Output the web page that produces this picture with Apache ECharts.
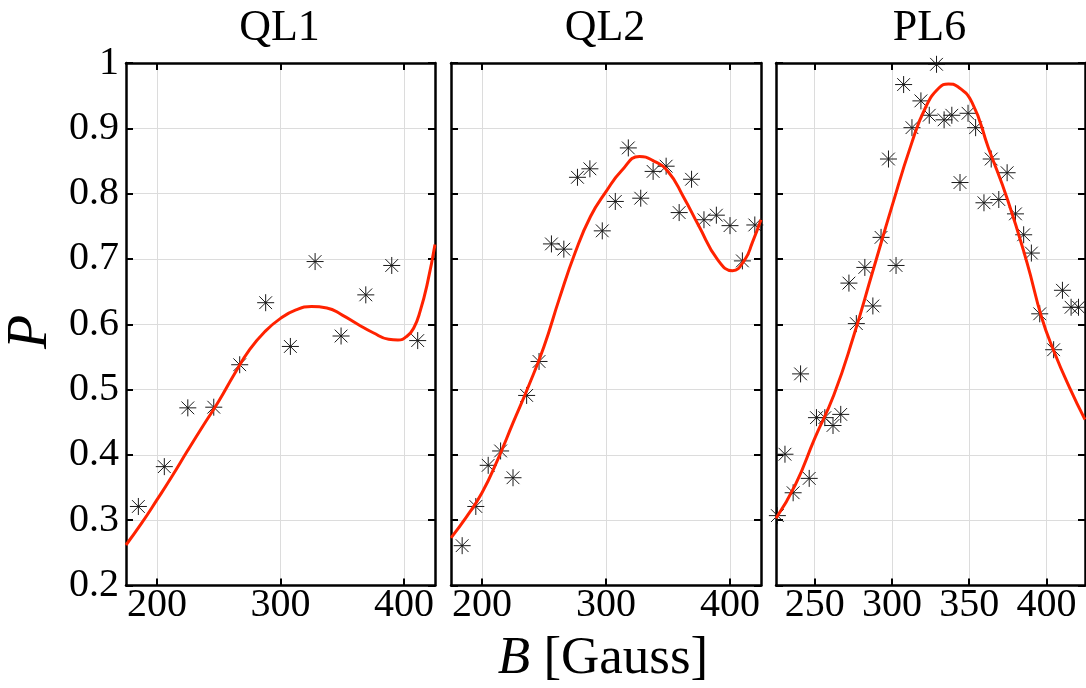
<!DOCTYPE html>
<html>
<head>
<meta charset="utf-8">
<script src="https://cdn.jsdelivr.net/npm/echarts@6/dist/echarts.min.js"></script>
<style>
html,body{margin:0;padding:0;background:#fff;}
#chart{width:1086px;height:688px;}
</style>
</head>
<body>
<div id="chart"></div>
<script>
// ---------- data ----------
const panelTitles = ['QL1', 'QL2', 'PL6'];

const ql1B = [185, 206, 225, 246, 267, 288, 308, 328, 349, 369, 390, 411];
const ql1P = [0.321, 0.382, 0.472, 0.473, 0.538, 0.633, 0.566, 0.696, 0.582, 0.645, 0.690, 0.575];
const ql1FitB = [175, 187.5, 200, 212.5, 225, 237.5, 250, 262.5, 275, 287.5, 300, 312.5, 325, 337.5, 350, 362.5, 375, 387.5, 395, 402.5, 408, 413, 419, 425];
const ql1FitP = [0.262, 0.295, 0.331, 0.368, 0.407, 0.445, 0.482, 0.523, 0.561, 0.589, 0.609, 0.622, 0.627, 0.625, 0.614, 0.600, 0.587, 0.577, 0.576, 0.582, 0.595, 0.620, 0.664, 0.722];

const ql2B = [184, 195, 205, 215, 225, 236, 246, 256, 266, 277, 287, 297, 307.5, 318, 328, 338, 348.5, 359, 369, 379, 389, 400, 410, 420];
const ql2P = [0.261, 0.321, 0.384, 0.406, 0.365, 0.491, 0.543, 0.723, 0.715, 0.825, 0.838, 0.743, 0.788, 0.870, 0.793, 0.834, 0.842, 0.771, 0.822, 0.760, 0.767, 0.751, 0.697, 0.752];
const ql2FitB = [175, 187.5, 200, 212.5, 225, 237.5, 250, 262.5, 275, 287.5, 300, 312.5, 327, 337.5, 350, 362.5, 375, 390, 402, 412, 418, 425];
const ql2FitP = [0.273, 0.305, 0.342, 0.392, 0.449, 0.505, 0.566, 0.640, 0.709, 0.765, 0.803, 0.835, 0.857, 0.851, 0.834, 0.795, 0.750, 0.699, 0.682, 0.699, 0.725, 0.760];

const pl6B = [225.9, 230.8, 236.1, 240.9, 246.5, 251.2, 256.6, 261.9, 266.9, 272.2, 277, 282.5, 287.7, 293, 297.8, 302.7, 307.6, 313, 318.8, 324.2, 328.9, 333.8, 338.8, 344.1, 349.3, 354.2, 359.6, 364.3, 369.2, 374.6, 380, 385.3, 390.3, 395.7, 404.7, 410.4, 416, 420.8];
const pl6P = [0.307, 0.401, 0.342, 0.524, 0.364, 0.457, 0.457, 0.445, 0.462, 0.663, 0.601, 0.687, 0.628, 0.733, 0.853, 0.690, 0.967, 0.901, 0.942, 0.920, 0.998, 0.913, 0.920, 0.817, 0.923, 0.901, 0.786, 0.853, 0.791, 0.832, 0.769, 0.737, 0.709, 0.616, 0.561, 0.652, 0.626, 0.626];
const pl6FitB = [225, 237.5, 250, 262.5, 275, 287.5, 300, 312.5, 322, 330.6, 336.6, 342.5, 352, 362.5, 375, 387.5, 397, 405, 415, 425];
const pl6FitP = [0.303, 0.354, 0.425, 0.492, 0.580, 0.680, 0.780, 0.875, 0.933, 0.962, 0.968, 0.964, 0.939, 0.870, 0.790, 0.694, 0.610, 0.558, 0.503, 0.454];

const xRanges = [[175, 425], [175, 425], [225, 425]];
const xTickLabels = [[200, 300, 400], [200, 300, 400], [250, 300, 350, 400]];
const yMin = 0.2, yMax = 1, yStep = 0.1;

// ---------- layout ----------
const FONT = '"Liberation Serif", "Times New Roman", serif';
const grids = [
  {left: 126, top: 63, width: 309, height: 522.5},
  {left: 451, top: 63, width: 310, height: 522.5},
  {left: 776, top: 63, width: 309, height: 522.5}
];
const scat = [[ql1B, ql1P], [ql2B, ql2P], [pl6B, pl6P]];
const fits = [[ql1FitB, ql1FitP], [ql2FitB, ql2FitP], [pl6FitB, pl6FitP]];
const zip = (a, b) => a.map((v, i) => [v, b[i]]);

const lineStyle = {color: '#000', width: 2.5};
const tickStyle = {color: '#000', width: 2};
const xAxis = [], yAxis = [], series = [];
const asterisk = 'path://M0 -10 L0 10 M-10 0 L10 0 M-7.5 -7.5 L7.5 7.5 M-7.5 7.5 L7.5 -7.5';

grids.forEach((g, i) => {
  xAxis.push({
    type: 'value', gridIndex: i, position: 'bottom', min: xRanges[i][0], max: xRanges[i][1],
    axisLine: {show: true, onZero: false, lineStyle},
    axisTick: {show: true, inside: true, length: 7, lineStyle: tickStyle, customValues: xTickLabels[i]},
    axisLabel: {show: true, customValues: xTickLabels[i], fontFamily: FONT, fontSize: 40, color: '#000', margin: 0},
    splitLine: {show: true, lineStyle: {color: '#dcdcdc', width: 1}}
  });
  xAxis.push({
    type: 'value', gridIndex: i, position: 'top', min: xRanges[i][0], max: xRanges[i][1],
    axisLine: {show: true, onZero: false, lineStyle},
    axisTick: {show: true, inside: true, length: 7, lineStyle: tickStyle, customValues: xTickLabels[i]},
    axisLabel: {show: false},
    splitLine: {show: false}
  });
  yAxis.push({
    type: 'value', gridIndex: i, position: 'left', min: yMin, max: yMax, interval: yStep,
    axisLine: {show: true, onZero: false, lineStyle},
    axisTick: {show: true, inside: true, length: 7, lineStyle: tickStyle},
    axisLabel: {show: i === 0, fontFamily: FONT, fontSize: 40, color: '#000', margin: 7,
      padding: [0, 0, 7, 0],
      formatter: v => String(Math.round(v * 10) / 10)},
    splitLine: {show: true, lineStyle: {color: '#dcdcdc', width: 1}}
  });
  yAxis.push({
    type: 'value', gridIndex: i, position: 'right', min: yMin, max: yMax, interval: yStep,
    axisLine: {show: true, onZero: false, lineStyle},
    axisTick: {show: true, inside: true, length: 7, lineStyle: tickStyle},
    axisLabel: {show: false},
    splitLine: {show: false}
  });
  series.push({
    type: 'scatter', xAxisIndex: 2 * i, yAxisIndex: 2 * i,
    data: zip(scat[i][0], scat[i][1]),
    symbol: asterisk, symbolSize: 17,
    itemStyle: {color: 'rgba(0,0,0,0)', borderColor: '#1a1a1a', borderWidth: 1, opacity: 1},
    z: 3, silent: true
  });
  series.push({
    type: 'line', xAxisIndex: 2 * i, yAxisIndex: 2 * i,
    data: zip(fits[i][0], fits[i][1]),
    smooth: 0.5, showSymbol: false, symbol: 'none',
    lineStyle: {color: '#ff2200', width: 3},
    z: 4, silent: true
  });
});

const graphic = panelTitles.map((t, i) => ({
  type: 'text',
  x: grids[i].left + grids[i].width / 2 - 1, y: 28,
  style: {text: t, font: '44px ' + FONT, fill: '#000', textAlign: 'center', textVerticalAlign: 'middle'}
}));
graphic.push({
  type: 'text', x: 603, y: 659,
  style: {
    text: '{i|B} [Gauss]', fill: '#000', textAlign: 'center', textVerticalAlign: 'middle',
    font: '53px ' + FONT,
    rich: {i: {fontStyle: 'italic', fontFamily: FONT, fontSize: 53}}
  }
});
graphic.push({
  type: 'text', x: 31, y: 332, rotation: Math.PI / 2,
  style: {text: 'P', font: 'italic 56px ' + FONT, fill: '#000', textAlign: 'center', textVerticalAlign: 'middle'}
});

const chart = echarts.init(document.getElementById('chart'), null, {renderer: 'canvas'});
chart.setOption({
  animation: false,
  backgroundColor: '#fff',
  grid: grids,
  xAxis, yAxis, series, graphic
});
</script>
</body>
</html>
